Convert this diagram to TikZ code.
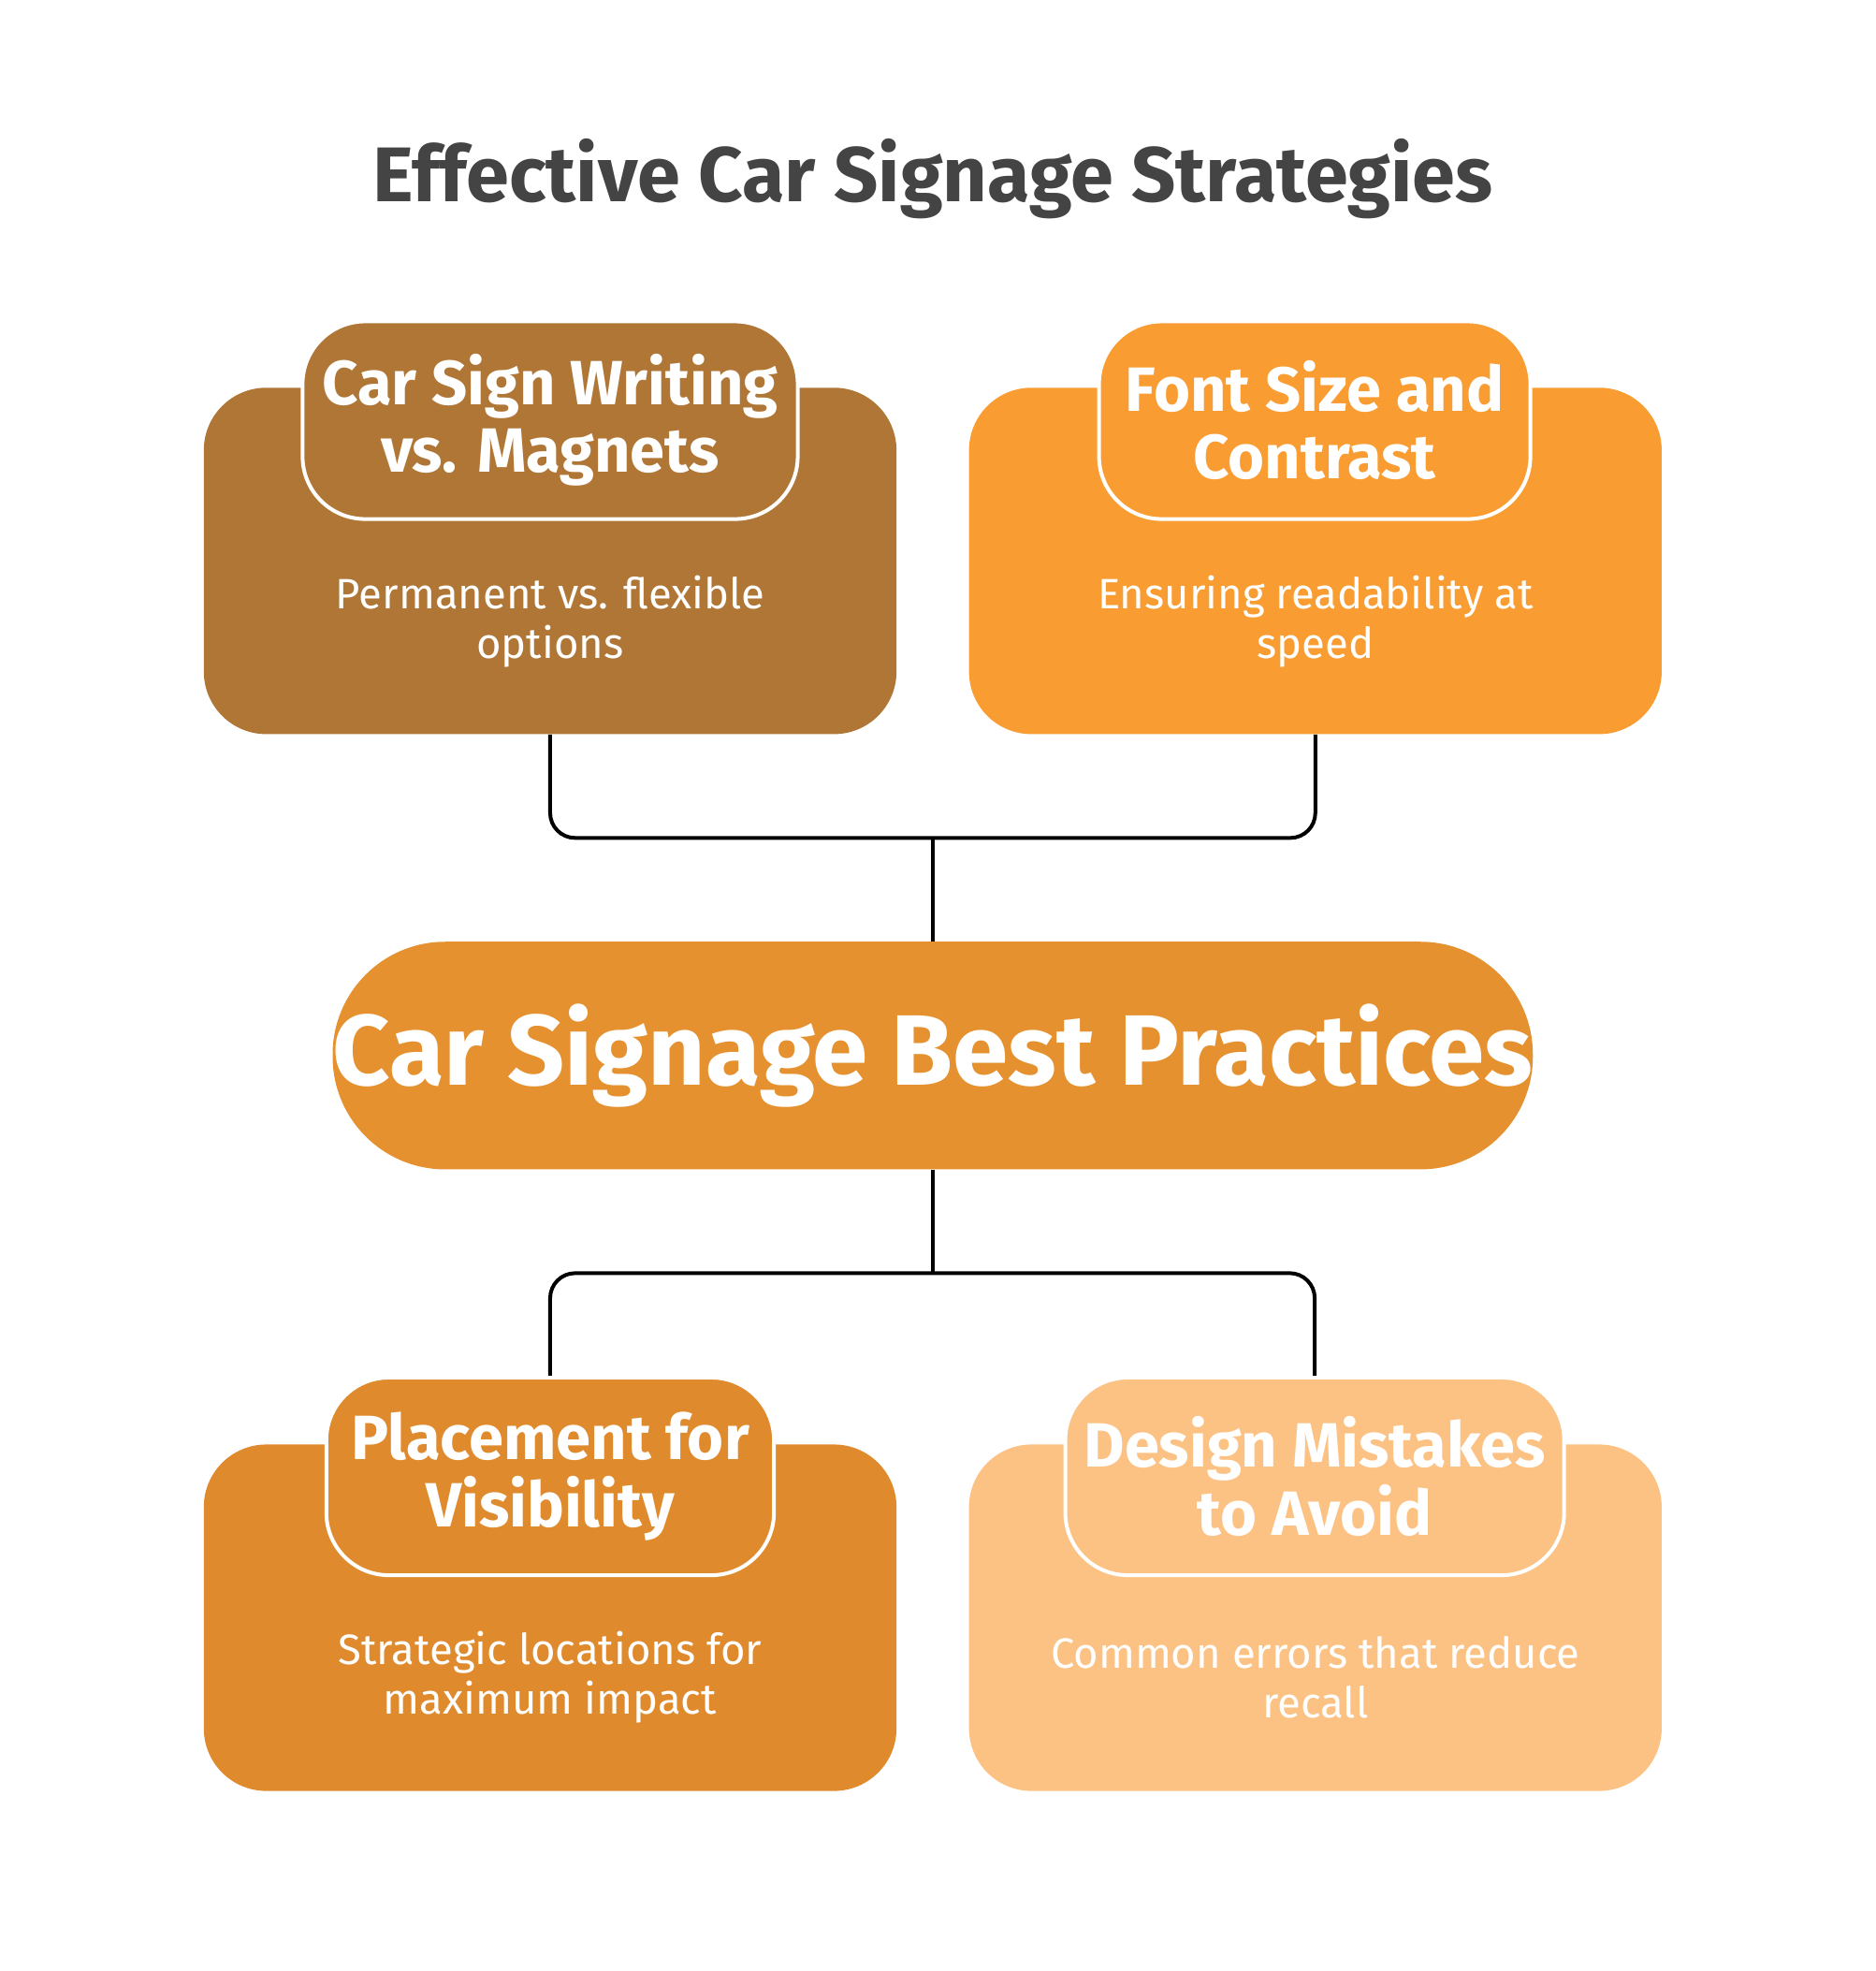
\documentclass[tikz,border=0pt]{standalone}
\usepackage{fontspec}
\setmainfont{Fira Sans}
\definecolor{cA}{HTML}{B07636}
\definecolor{cB}{HTML}{F99D33}
\definecolor{cC}{HTML}{E5912F}
\definecolor{cD}{HTML}{E08A2E}
\definecolor{cE}{HTML}{FCC283}
\definecolor{tgrey}{HTML}{444444}
\begin{document}
\begin{tikzpicture}[x=0.5pt,y=-0.5pt,
  main/.style={draw=none,rounded corners=25pt,minimum width=277pt,minimum height=138.5pt,inner sep=0pt},
  tab/.style={draw=white,line width=1.5pt,rounded corners=25pt,minimum height=79pt,inner sep=0pt,text=white,font=\fontsize{25}{27}\selectfont\bfseries,align=center},
  body/.style={text=white,font=\fontsize{17}{20}\selectfont,align=center},
  conn/.style={draw=black,line width=1.5pt,rounded corners=10pt}]
\useasboundingbox (0,0) rectangle (1500,1576);
\node[text=tgrey,font=\fontsize{31}{34}\selectfont\bfseries] (title) at (746,143) {Effective Car Signage Strategies};
% top left
\node[main,fill=cA] (m1) at (440,448.5) {};
\node[tab,fill=cA,minimum width=198pt] (t1) at (440,336) {Car Sign Writing\\vs. Magnets};
\node[body] (b1) at (440,497) {Permanent vs. flexible\\options};
% top right
\node[main,fill=cB] (m2) at (1052,448.5) {};
\node[tab,fill=cB,minimum width=172.5pt] (t2) at (1051.5,336) {Font Size and\\Contrast};
\node[body] (b2) at (1052,497) {Ensuring readability at\\speed};
% center
\node[fill=cC,rounded corners=45pt,minimum width=449pt,minimum height=91pt,inner sep=0pt,text=white,font=\fontsize{40}{44}\selectfont\bfseries] (c) at (746,844) {Car Signage Best Practices};
% bottom left
\node[main,fill=cD] (m3) at (440,1293.5) {};
\node[tab,fill=cD,minimum width=179pt] (t3) at (440,1180.5) {Placement for\\Visibility};
\node[body] (b3) at (440,1341) {Strategic locations for\\maximum impact};
% bottom right
\node[main,fill=cE] (m4) at (1052,1293.5) {};
\node[tab,fill=cE,minimum width=199.5pt] (t4) at (1051.5,1180.5) {Design Mistakes\\to Avoid};
\node[body] (b4) at (1052,1341) {Common errors that reduce\\recall};
% connectors
\coordinate (j1) at (746,670);
\coordinate (j2) at (746,1018);
\draw[conn] (m1.south) |- (j1) -| (m2.south);
\draw[conn] (j1) -- (c.north);
\draw[conn] (c.south) -- (j2);
\draw[conn] (t3.north) |- (j2) -| (t4.north);
\end{tikzpicture}
\end{document}
